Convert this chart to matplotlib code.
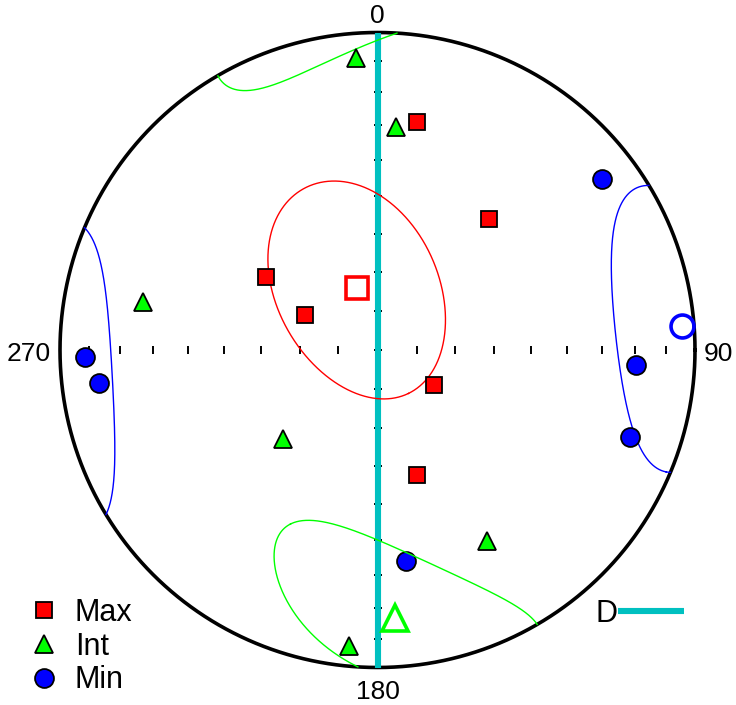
import numpy as np
import matplotlib
matplotlib.use("Agg")
import matplotlib.pyplot as plt
from matplotlib.lines import Line2D

plt.rcParams["font.family"] = ["Liberation Sans", "DejaVu Sans"]

# Principal susceptibility axes (trend, plunge in degrees)
max_trend = [9.8, 40.4, 303.2, 295.8, 121.8, 162.5]
max_plunge = [28.0, 44.9, 55.5, 69.3, 73.0, 56.0]
int_trend = [355.8, 4.7, 281.6, 226.7, 150.2, 185.5]
int_plunge = [8.6, 30.2, 25.6, 56.4, 31.3, 7.0]
min_trend = [52.7, 268.6, 263.2, 93.3, 109.0, 172.3]
min_plunge = [12.1, 8.7, 12.7, 19.6, 17.0, 33.4]

# Mean directions (Max, Int, Min)
mean_trend = [341.7, 176.3, 85.5]
mean_plunge = [73.3, 16.5, 4.3]
# Confidence ellipses: semi-axes (deg) and azimuth of the major semi-axis,
# measured from the down-plunge direction toward increasing trend (deg)
conf_major = [30.0, 34.5, 27.5]
conf_minor = [20.5, 17.0, 21.5]
conf_orient = [8.0, 44.0, 95.0]

# Reference plane D
plane_strike = 0.0
plane_dip = 90.0

tick_angles = [0, 10, 20, 30, 40, 50, 60, 70, 80]

series_labels = ["Max", "Int", "Min"]
series_colors = ["#ff0000", "#00ff00", "#0000ff"]
cyan = "#00c0c0"


def vec(trend, plunge):
    t = np.radians(np.asarray(trend, float))
    p = np.radians(np.asarray(plunge, float))
    return np.array([np.cos(p) * np.sin(t), np.cos(p) * np.cos(t), np.sin(p)])


def project(v):
    """Lambert equal-area (Schmidt) lower-hemisphere projection, unit radius."""
    x, y, z = v
    s = 1.0 / np.sqrt(1.0 + z)
    return x * s, y * s


def cone(trend, plunge, a, b, psi, n=4000):
    t, p = np.radians(trend), np.radians(plunge)
    m = vec(trend, plunge)
    ep = np.array([-np.sin(p) * np.sin(t), -np.sin(p) * np.cos(t), np.cos(p)])
    et = np.array([np.cos(t), -np.sin(t), 0.0])
    ps = np.radians(psi)
    u = np.cos(ps) * ep + np.sin(ps) * et
    w = -np.sin(ps) * ep + np.cos(ps) * et
    phi = np.linspace(0, 2 * np.pi, n)
    A, B = np.radians(a), np.radians(b)
    ang = A * B / np.sqrt((B * np.cos(phi)) ** 2 + (A * np.sin(phi)) ** 2)
    pts = (np.cos(ang)[None] * m[:, None]
           + np.sin(ang)[None] * (np.cos(phi)[None] * u[:, None]
                                  + np.sin(phi)[None] * w[:, None]))
    upper = pts[2] < 0
    pts[:, upper] *= -1
    X, Y = project(pts)
    brk = np.where(np.diff(upper.astype(int)) != 0)[0] + 1
    X = np.insert(X, brk, np.nan)
    Y = np.insert(Y, brk, np.nan)
    return X, Y


def great_circle(strike, dip, n=400):
    s = np.radians(strike)
    d = np.radians(dip)
    strike_dir = np.array([np.sin(s), np.cos(s), 0.0])
    dd = s + np.pi / 2
    dip_dir = np.array([np.cos(d) * np.sin(dd), np.cos(d) * np.cos(dd), np.sin(d)])
    a = np.linspace(0, np.pi, n)
    pts = np.cos(a)[None] * strike_dir[:, None] + np.sin(a)[None] * dip_dir[:, None]
    return project(pts)


W, H = 736, 705
fig = plt.figure(figsize=(W / 100, H / 100), dpi=100)
cx, cy, R = 377.5, 350.0, 317.5
ax = fig.add_axes([(cx - R) / W, (H - cy - R) / H, 2 * R / W, 2 * R / H])
ax.set_xlim(-1, 1)
ax.set_ylim(-1, 1)
ax.axis("off")

# primitive circle
th = np.linspace(0, 2 * np.pi, 721)
ax.plot(np.cos(th), np.sin(th), color="black", lw=2.6, zorder=2, clip_on=False)

# graduation ticks along the E-W and N-S diameters
for side in (90, 270):
    tx, ty = project(vec([side] * len(tick_angles), [90 - a for a in tick_angles]))
    ax.plot(tx, ty, ls="none", marker="|", ms=6, mew=1.4, color="black", zorder=2)
for side in (0, 180):
    tx, ty = project(vec([side] * len(tick_angles), [90 - a for a in tick_angles]))
    ax.plot(tx, ty, ls="none", marker="_", ms=6, mew=1.4, color="black", zorder=2)

# plane D
gx, gy = great_circle(plane_strike, plane_dip)
ax.plot(gx, gy, color=cyan, lw=4.4, solid_capstyle="butt", zorder=3, clip_on=False)

# confidence ellipses
ell_z = [6, 6, 4]
for i in range(3):
    ex, ey = cone(mean_trend[i], mean_plunge[i], conf_major[i], conf_minor[i], conf_orient[i])
    ax.plot(ex, ey, color=series_colors[i], lw=1.0, zorder=ell_z[i], clip_on=False)

# individual axes
handles = []
for tr, pl, mk, ms, col, lab, z in [
    (max_trend, max_plunge, "s", 12.2, series_colors[0], series_labels[0], 7),
    (int_trend, int_plunge, "^", 12.8, series_colors[1], series_labels[1], 7),
    (min_trend, min_plunge, "o", 13.6, series_colors[2], series_labels[2], 5),
]:
    px, py = project(vec(tr, pl))
    h, = ax.plot(px, py, ls="none", marker=mk, ms=ms, mfc=col, mec="black",
                 mew=1.3, zorder=z, label=lab)
    handles.append(h)

# mean directions (open symbols)
mx, my = project(vec(mean_trend, mean_plunge))
for i, (mk, ms) in enumerate([("s", 16), ("^", 19), ("o", 16.5)]):
    ax.plot(mx[i], my[i], ls="none", marker=mk, ms=ms, mfc="none",
            mec=series_colors[i], mew=2.6, zorder=8, clip_on=False)

# azimuth labels
fs = 19
ax.text(0.0, 1.053, "0", ha="center", va="center", fontsize=fs)
ax.text(0.0, -1.077, "180", ha="center", va="center", fontsize=fs, clip_on=False)
ax.text(-1.028, -0.013, "270", ha="right", va="center", fontsize=fs)
ax.text(1.028, -0.013, "90", ha="left", va="center", fontsize=fs)

leg = ax.legend(handles=handles, loc="upper left",
                bbox_to_anchor=(28.5 / W, 1 - 598 / H), bbox_transform=fig.transFigure,
                frameon=False, fontsize=22, handlelength=1.0, handletextpad=0.52,
                labelspacing=0.12, borderpad=0, borderaxespad=0)
ax.add_artist(leg)

dline = Line2D([], [], color=cyan, lw=4.4, solid_capstyle="butt")
ax.legend(handles=[dline], labels=["D"], loc="center left", markerfirst=False,
          bbox_to_anchor=(596 / W, 1 - 614 / H), bbox_transform=fig.transFigure,
          frameon=False, fontsize=22, handlelength=2.15, handletextpad=0.0,
          borderpad=0, borderaxespad=0)

fig.savefig("out.png", dpi=100)
